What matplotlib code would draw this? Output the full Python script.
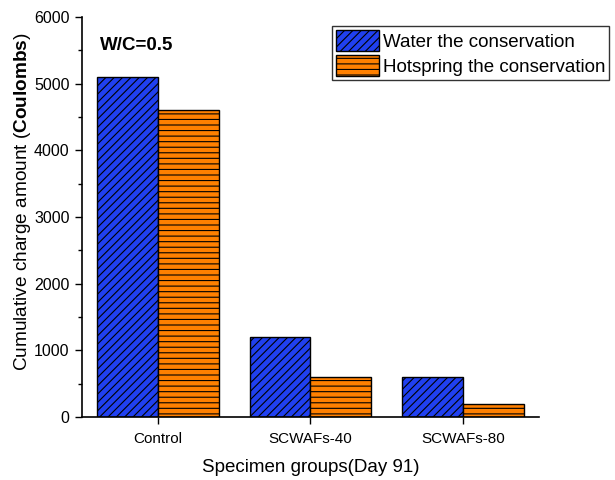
import numpy as np
import matplotlib
matplotlib.use('Agg')
import matplotlib.pyplot as plt
from matplotlib.ticker import MultipleLocator

plt.rcParams['font.family'] = ['Liberation Sans', 'DejaVu Sans']
plt.rcParams['mathtext.fontset'] = 'custom'
plt.rcParams['mathtext.bf'] = 'Liberation Sans:bold'
plt.rcParams['mathtext.rm'] = 'Liberation Sans'
plt.rcParams['hatch.linewidth'] = 0.8

groups = ["Control", "SCWAFs-40", "SCWAFs-80"]
water = [5100, 1200, 600]
hotspring = [4600, 600, 200]
series_names = ["Water the conservation", "Hotspring the conservation"]

fig = plt.figure(figsize=(6.15, 4.8), dpi=100)
ax = fig.add_axes([0.1333, 0.131, 0.7431, 0.8336])

x = np.arange(len(groups))
width = 0.4
ax.bar(x - width / 2, water, width, color='#2040F0', edgecolor='black',
       linewidth=1.0, hatch='////', label=series_names[0])
ax.bar(x + width / 2, hotspring, width, color='#FF8000', edgecolor='black',
       linewidth=1.0, hatch='---', label=series_names[1])

ax.set_xlim(-0.5, 2.5)
ax.set_ylim(0, 6000)
ax.set_xticks(x)
ax.set_xticklabels(groups, fontsize=11)
ax.yaxis.set_major_locator(MultipleLocator(1000))
ax.yaxis.set_minor_locator(MultipleLocator(500))
ax.tick_params(axis='y', labelsize=11.5, direction='out', length=5, width=1, pad=4)
ax.tick_params(axis='y', which='minor', direction='out', length=3, width=1)
ax.tick_params(axis='x', direction='out', length=5, width=1, pad=6)
for s in ['top', 'right']:
    ax.spines[s].set_visible(False)
for s in ['left', 'bottom']:
    ax.spines[s].set_linewidth(1.2)

ax.set_xlabel('Specimen groups(Day 91)', fontsize=13.5, labelpad=9)
ax.set_ylabel(r'Cumulative charge amount ($\bf{Coulombs}$)', fontsize=13.7)
ax.yaxis.set_label_coords(-0.107, 0.5375)

ax.text(0.04, 0.93, 'W/C=0.5', transform=ax.transAxes, fontsize=13.5,
        fontweight='bold', va='center', ha='left')

leg = fig.legend(loc='upper right', bbox_to_anchor=(0.99, 0.945), fontsize=13.5,
                 frameon=True, fancybox=False, borderpad=0.2, labelspacing=0.25,
                 handlelength=2.3, handleheight=1.3, handletextpad=0.2,
                 borderaxespad=0)
leg.get_frame().set_edgecolor('black')
leg.get_frame().set_linewidth(1.0)

plt.savefig('out.png', dpi=100)
